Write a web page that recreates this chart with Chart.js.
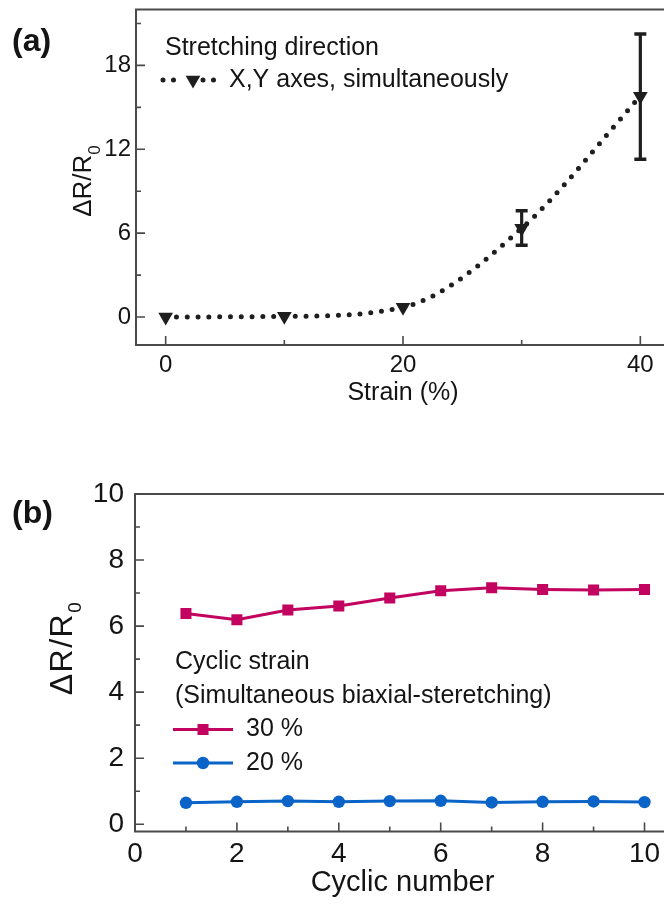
<!DOCTYPE html>
<html><head><meta charset="utf-8">
<script src="https://cdn.jsdelivr.net/npm/chart.js@4"></script>
<style>
html,body{margin:0;padding:0;background:#fff;overflow:hidden;width:664px;height:905px;position:relative;}
#ca{position:absolute;left:0;top:0;}
#cb{position:absolute;left:0;top:460px;}
</style></head><body>
<canvas id="ca" width="700" height="420"></canvas>
<canvas id="cb" width="700" height="445"></canvas>
<script>
// ---------- Panel (a) data ----------
const strain = [0, 10, 20, 30, 40];
const dRa = [0.0, 0.05, 0.7, 6.35, 15.8];
const errLowA = [null, null, null, 5.13, 11.28];
const errHighA = [null, null, null, 7.6, 20.25];
const xTicksA = [0, 20, 40];
const xMinorA = [10, 30];
const yTicksA = [0, 6, 12, 18];
const yMinorA = [3, 9, 15, 21];
// ---------- Panel (b) data ----------
const cycles = [1, 2, 3, 4, 5, 6, 7, 8, 9, 10];
const strain30 = [6.38, 6.19, 6.49, 6.61, 6.85, 7.07, 7.16, 7.11, 7.09, 7.11];
const strain20 = [0.65, 0.68, 0.70, 0.68, 0.70, 0.71, 0.66, 0.68, 0.69, 0.67];
const xTicksB = [0, 2, 4, 6, 8, 10];
const xMinorB = [1, 3, 5, 7, 9];
const yTicksB = [0, 2, 4, 6, 8, 10];
const yMinorB = [1, 3, 5, 7, 9];

const FAM = '"Liberation Sans", Arial, Helvetica, sans-serif';
const TXT = '#141414';
const AXC = '#4a4a4a';
const DARK = '#1e1e1e';
const MAG = '#C2035F';
const BLUE = '#0A64C8';

const deco = {
  id: 'deco',
  beforeDatasetsDraw(chart, args, o) {
    const {ctx, chartArea: a} = chart;
    const xs = chart.scales.x, ys = chart.scales.y;
    ctx.save();
    ctx.strokeStyle = AXC;
    ctx.lineWidth = 2;
    ctx.strokeRect(a.left, a.top, a.right - a.left, a.bottom - a.top);
    ctx.lineWidth = 1.6;
    ctx.beginPath();
    const tick = (vals, len, horiz) => vals.forEach(v => {
      if (horiz) { const p = xs.getPixelForValue(v); ctx.moveTo(p, a.bottom); ctx.lineTo(p, a.bottom - len); }
      else { const p = ys.getPixelForValue(v); ctx.moveTo(a.left, p); ctx.lineTo(a.left + len, p); }
    });
    tick(o.xMajor, 9, true); tick(o.xMinor, 5, true);
    tick(o.yMajor, 9, false); tick(o.yMinor, 5, false);
    ctx.stroke();
    ctx.restore();
  },
  afterDraw(chart, args, o) {
    const ctx = chart.ctx;
    ctx.save();
    // panel label
    ctx.fillStyle = TXT;
    ctx.textBaseline = 'middle'; ctx.textAlign = 'left';
    ctx.font = 'bold 32px ' + FAM;
    ctx.fillText(o.panel.text, o.panel.x, o.panel.y);
    // y title with subscript
    const T = o.yTitle;
    ctx.save();
    ctx.translate(T.x, T.y); ctx.rotate(-Math.PI / 2);
    if ('letterSpacing' in ctx) ctx.letterSpacing = T.spacing;
    const mf = T.size + 'px ' + FAM, sf = T.subSize + 'px ' + FAM;
    ctx.font = mf; const w1 = ctx.measureText(T.main).width;
    ctx.font = sf; const w2 = ctx.measureText(T.sub).width;
    const st = -(w1 + w2) / 2;
    ctx.font = mf; ctx.fillText(T.main, st, 0);
    ctx.font = sf; ctx.fillText(T.sub, st + w1, T.subShift);
    ctx.restore();
    // legend
    const L = o.legend;
    ctx.font = L.size + 'px ' + FAM;
    ctx.fillStyle = TXT;
    L.title.forEach((t, i) => ctx.fillText(t, L.x, L.titleY[i]));
    L.items.forEach(it => {
      const ds = chart.data.datasets[it.ds];
      ctx.save();
      ctx.strokeStyle = ds.borderColor; ctx.lineWidth = ds.borderWidth;
      ctx.lineCap = ds.borderCapStyle || 'butt';
      ctx.setLineDash(L.dash || []);
      L.segs.forEach(sg => {
        ctx.beginPath(); ctx.moveTo(sg[0], it.y); ctx.lineTo(sg[1], it.y); ctx.stroke();
      });
      ctx.setLineDash([]);
      ctx.fillStyle = ds.pointBackgroundColor;
      ctx.strokeStyle = ds.pointBackgroundColor;
      Chart.helpers.drawPoint(ctx, {pointStyle: ds.pointStyle, rotation: ds.pointRotation || 0,
        radius: ds.pointRadius, borderWidth: ds.pointBorderWidth || 0}, L.mx, it.y);
      ctx.restore();
      ctx.fillStyle = TXT;
      ctx.fillText(ds.label, L.tx, it.y);
    });
    ctx.restore();
  }
};

function setTicks(vals) { return s => { s.ticks = vals.map(v => ({value: v})); }; }
function fitY(w) { return s => { s.width = w; s.paddingTop = 0; s.paddingBottom = 0; }; }
function fitX(h) { return s => { s.height = h; s.paddingLeft = 0; s.paddingRight = 0; }; }

// ---------- Chart (a) ----------
const mainA = {
  label: 'X,Y axes, simultaneously',
  data: strain.map((x, i) => ({x: x, y: dRa[i]})),
  showLine: true,
  borderColor: DARK, borderWidth: 5, borderDash: [0, 10.8], borderCapStyle: 'round',
  cubicInterpolationMode: 'monotone',
  pointStyle: 'triangle', pointRotation: 180, pointRadius: 8.5, pointBorderWidth: 0,
  pointBackgroundColor: DARK, pointBorderColor: DARK
};
const errA = [];
strain.forEach((x, i) => {
  if (errLowA[i] === null) return;
  errA.push({
    label: 'err', data: [{x: x, y: errLowA[i]}, {x: x, y: errHighA[i]}],
    showLine: true, borderColor: DARK, borderWidth: 3.2,
    pointStyle: 'line', pointRadius: 6, pointBorderWidth: 3.5, pointBorderColor: DARK
  });
});

new Chart(document.getElementById('ca'), {
  type: 'scatter',
  data: {datasets: [mainA, ...errA]},
  options: {
    responsive: false, animation: false, events: [],
    layout: {padding: {left: 0, top: 7, right: 30, bottom: 0}},
    plugins: {
      legend: {display: false}, tooltip: {enabled: false},
      deco: {
        xMajor: xTicksA, xMinor: xMinorA, yMajor: yTicksA, yMinor: yMinorA,
        panel: {text: '(a)', x: 12, y: 42},
        yTitle: {x: 84, y: 181, main: 'ΔR/R', sub: '0', size: 26, subSize: 17, subShift: 11, spacing: '0px'},
        legend: {size: 25, x: 165, title: ['Stretching direction'], titleY: [48],
          items: [{ds: 0, y: 80}], segs: [[163, 175.5], [203, 214]], dash: [0, 10.5], mx: 193, tx: 229}
      }
    },
    scales: {
      x: {
        type: 'linear', min: -2.5, max: 42.5,
        afterBuildTicks: setTicks(xTicksA),
        afterFit: fitX(75),
        grid: {display: false, drawTicks: false}, border: {display: false},
        ticks: {font: {size: 24, family: FAM}, color: TXT, padding: 6, maxRotation: 0, autoSkip: false},
        title: {display: true, text: 'Strain (%)', font: {size: 25, family: FAM}, color: TXT, padding: {top: 0, bottom: 12}}
      },
      y: {
        type: 'linear', min: -2, max: 22,
        afterBuildTicks: setTicks(yTicksA),
        afterFit: fitY(136),
        grid: {display: false, drawTicks: false}, border: {display: false},
        ticks: {font: {size: 24, family: FAM}, color: TXT, padding: 5, autoSkip: false}
      }
    }
  },
  plugins: [deco]
});

// ---------- Chart (b) ----------
const ds30 = {
  label: '30 %', data: cycles.map((c, i) => ({x: c, y: strain30[i]})), showLine: true,
  borderColor: MAG, borderWidth: 3, tension: 0,
  pointStyle: 'rect', pointRadius: 7.8, pointBorderWidth: 0, pointBackgroundColor: MAG, pointBorderColor: MAG
};
const ds20 = {
  label: '20 %', data: cycles.map((c, i) => ({x: c, y: strain20[i]})), showLine: true,
  borderColor: BLUE, borderWidth: 3, tension: 0,
  pointStyle: 'circle', pointRadius: 6.2, pointBorderWidth: 0, pointBackgroundColor: BLUE, pointBorderColor: BLUE
};

new Chart(document.getElementById('cb'), {
  type: 'scatter',
  data: {datasets: [ds30, ds20]},
  options: {
    responsive: false, animation: false, events: [],
    layout: {padding: {left: 0, top: 34, right: 30, bottom: 0}},
    plugins: {
      legend: {display: false}, tooltip: {enabled: false},
      deco: {
        xMajor: xTicksB, xMinor: xMinorB, yMajor: yTicksB, yMinor: yMinorB,
        panel: {text: '(b)', x: 12, y: 54},
        yTitle: {x: 63, y: 188, main: 'ΔR/R', sub: '0', size: 32, subSize: 19, subShift: 13, spacing: '1.5px'},
        legend: {size: 25, x: 175, title: ['Cyclic strain', '(Simultaneous biaxial-steretching)'], titleY: [202, 236],
          items: [{ds: 0, y: 269.5}, {ds: 1, y: 303}], segs: [[173, 233]], dash: [], mx: 203, tx: 246}
      }
    },
    scales: {
      x: {
        type: 'linear', min: 0, max: 10.5,
        afterBuildTicks: setTicks(xTicksB),
        afterFit: fitX(73.5),
        grid: {display: false, drawTicks: false}, border: {display: false},
        ticks: {font: {size: 28, family: FAM}, color: TXT, padding: 6, maxRotation: 0, autoSkip: false},
        title: {display: true, text: 'Cyclic number', font: {size: 29, family: FAM}, color: TXT, padding: {top: 0, bottom: 5}}
      },
      y: {
        type: 'linear', min: -0.22, max: 10,
        afterBuildTicks: setTicks(yTicksB),
        afterFit: fitY(135),
        grid: {display: false, drawTicks: false}, border: {display: false},
        ticks: {font: {size: 28, family: FAM}, color: TXT, padding: 11, autoSkip: false}
      }
    }
  },
  plugins: [deco]
});
</script>
</body></html>
